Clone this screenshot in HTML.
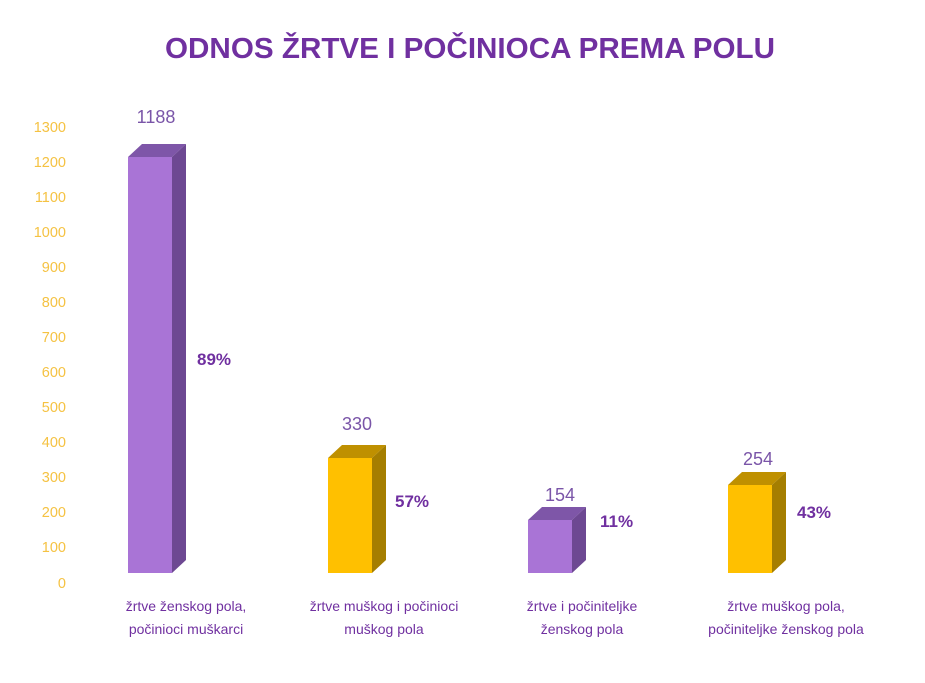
<!DOCTYPE html>
<html><head><meta charset="utf-8"><style>
body{margin:0;background:#fff;width:925px;height:678px;overflow:hidden;font-family:"Liberation Sans",sans-serif}
</style></head><body>
<svg width="925" height="678" xmlns="http://www.w3.org/2000/svg" font-family="Liberation Sans, sans-serif">
<text x="470" y="58" text-anchor="middle" font-size="29" font-weight="bold" fill="#7030a0" textLength="610" lengthAdjust="spacingAndGlyphs">ODNOS ŽRTVE I POČINIOCA PREMA POLU</text>
<g font-size="14.5" fill="#f5c242" text-anchor="end">
<text x="66" y="132">1300</text><text x="66" y="167">1200</text><text x="66" y="202">1100</text><text x="66" y="237">1000</text>
<text x="66" y="272">900</text><text x="66" y="307">800</text><text x="66" y="342">700</text><text x="66" y="377">600</text>
<text x="66" y="412">500</text><text x="66" y="447">400</text><text x="66" y="482">300</text><text x="66" y="517">200</text>
<text x="66" y="552">100</text><text x="66" y="588">0</text>
</g>
<polygon points="128,157 142,144 186,144 172,157" fill="#7e56a8"/>
<polygon points="172,157 186,144 186,560 172,573" fill="#6d4892"/>
<rect x="128" y="157" width="44" height="416" fill="#a974d6"/>
<polygon points="328,458 342,445 386,445 372,458" fill="#bf9000"/>
<polygon points="372,458 386,445 386,560 372,573" fill="#a57e00"/>
<rect x="328" y="458" width="44" height="115" fill="#ffc000"/>
<polygon points="528,520 542,507 586,507 572,520" fill="#7e56a8"/>
<polygon points="572,520 586,507 586,560 572,573" fill="#6d4892"/>
<rect x="528" y="520" width="44" height="53" fill="#a974d6"/>
<polygon points="728,485 742,472 786,472 772,485" fill="#bf9000"/>
<polygon points="772,485 786,472 786,560 772,573" fill="#a57e00"/>
<rect x="728" y="485" width="44" height="88" fill="#ffc000"/>
<g font-size="18" fill="#7a55a8" text-anchor="middle">
<text x="156" y="123">1188</text><text x="357" y="430">330</text><text x="560" y="501">154</text><text x="758" y="465">254</text>
</g>
<g font-size="17" font-weight="bold" fill="#7030a0">
<text x="197" y="365">89%</text><text x="395" y="507">57%</text><text x="600" y="527">11%</text><text x="797" y="518">43%</text>
</g>
<g font-size="14" fill="#7030a0" text-anchor="middle">
<text x="186" y="611">žrtve ženskog pola,</text><text x="186" y="634">počinioci muškarci</text>
<text x="384" y="611">žrtve muškog i počinioci</text><text x="384" y="634">muškog pola</text>
<text x="582" y="611">žrtve i počiniteljke</text><text x="582" y="634">ženskog pola</text>
<text x="786" y="611">žrtve muškog pola,</text><text x="786" y="634">počiniteljke ženskog pola</text>
</g>
</svg>
</body></html>
